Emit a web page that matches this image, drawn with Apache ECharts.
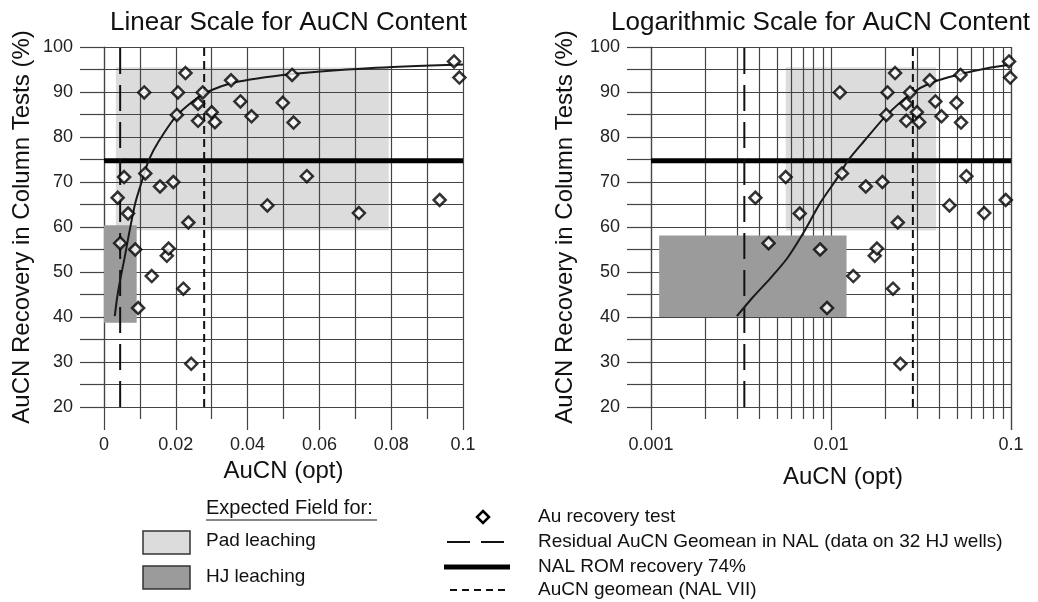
<!DOCTYPE html>
<html lang="en">
<head>
<meta charset="UTF-8">
<title>AuCN recovery</title>
<script src="https://cdn.jsdelivr.net/npm/echarts@6/dist/echarts.min.js"></script>
<style>body{margin:0;background:#fff}</style>
</head>
<body>
<div id="app" style="width:1038px;height:602px"></div>
<script>
// column tests: AuCN content (opt) and recovery (%)
var aucn = [0.0038, 0.0045, 0.0056, 0.0067, 0.0087, 0.0095, 0.0112, 0.0115, 0.0133, 0.0156,
	0.0175, 0.0180, 0.0193, 0.0203, 0.0206, 0.0221, 0.0227, 0.0235, 0.0243, 0.0262,
	0.0262, 0.0275, 0.0300, 0.0309, 0.0354, 0.0380, 0.0411, 0.0455, 0.0498, 0.0524,
	0.0528, 0.0565, 0.0710, 0.0935, 0.0975, 0.0990];
var recovery = [66.5, 56.4, 71.1, 63.0, 55.0, 42.0, 89.9, 71.9, 49.1, 69.0,
	53.6, 55.2, 70.0, 84.9, 89.9, 46.3, 94.2, 61.0, 29.6, 87.4,
	83.6, 89.9, 85.5, 83.3, 92.6, 87.9, 84.6, 64.8, 87.6, 93.8,
	83.2, 71.3, 63.1, 66.0, 96.8, 93.2];

// fitted recovery curve
var curveX = [0.0030, 0.0037, 0.0046, 0.0057, 0.0070, 0.0087, 0.0108, 0.0125, 0.0152, 0.0202, 0.0274, 0.0357, 0.0525, 0.0738, 0.1];
var curveY = [40.2, 44.5, 48.6, 53.0, 58.6, 65.3, 70.8, 74.9, 79.0, 84.7, 89.4, 92.0, 94.0, 95.3, 96.1];

var romRecovery = 74.7;           // NAL ROM recovery line
var residualX = [0.0045, 0.0033]; // residual AuCN geomean [linear, log]
var geomeanX = [0.0279, 0.0285];  // AuCN geomean NAL VII [linear, log]
// expected fields [xFrom, xTo, yFrom, yTo] for [linear, log]
var padField = [[0.0033, 0.0793, 59.3, 95.5], [0.0056, 0.0384, 59.2, 95.5]];
var hjField = [[0, 0.0091, 38.7, 60.4], [0.00111, 0.0122, 40.0, 58.1]];

var titles = ['Linear Scale for AuCN Content', 'Logarithmic Scale for AuCN Content'];

var font = 'Liberation Sans, Arial, sans-serif';
var gridColor = '#444';

function rectItem(color) {
	return function (params, api) {
		var a = api.coord([api.value(0), api.value(3)]);
		var b = api.coord([api.value(1), api.value(2)]);
		return {type: 'rect', shape: {x: a[0], y: a[1], width: b[0] - a[0], height: b[1] - a[1]}, style: {fill: color}};
	};
}

function chartSeries(i) {
	var xMin = i == 0 ? 0 : 0.001;
	var pts = aucn.map(function (x, k) { return [x, recovery[k]]; });
	var curve = curveX.map(function (x, k) { return [x, curveY[k]]; });
	var base = {xAxisIndex: i, yAxisIndex: i, silent: true, animation: false};
	return [
		Object.assign({type: 'custom', z: 0, renderItem: rectItem('#dcdcdc'), encode: {x: [0, 1], y: [2, 3]}, data: [padField[i]]}, base),
		Object.assign({type: 'custom', z: 2, renderItem: rectItem('#9b9b9b'), encode: {x: [0, 1], y: [2, 3]}, data: [hjField[i]]}, base),
		Object.assign({type: 'line', z: 3, symbol: 'none', data: [[xMin, romRecovery], [0.1, romRecovery]],
			lineStyle: {color: '#000', width: 5}}, base),
		Object.assign({type: 'line', z: 3, symbol: 'none', data: [[residualX[i], 20], [residualX[i], 100]],
			lineStyle: {color: '#111', width: 2, type: [26, 11]}}, base),
		Object.assign({type: 'line', z: 3, symbol: 'none', data: [[geomeanX[i], 20], [geomeanX[i], 100]],
			lineStyle: {color: '#111', width: 2, type: [8, 5]}}, base),
		Object.assign({type: 'line', z: 4, symbol: 'none', smooth: 0.25, data: curve,
			lineStyle: {color: '#1a1a1a', width: 2}}, base),
		Object.assign({type: 'scatter', z: 5, symbol: 'diamond', symbolSize: 12, data: pts,
			itemStyle: {color: '#fff', borderColor: '#000', borderWidth: 2.5}}, base)
	];
}

var lineSt = {lineStyle: {color: gridColor, width: 1.2}};

function xAxis(i) {
	var ax = {
		gridIndex: i, z: 1, max: 0.1,
		name: 'AuCN (opt)', nameLocation: 'middle', nameGap: i == 0 ? 49 : 58,
		nameTextStyle: {fontFamily: font, fontSize: 24, color: '#111', padding: i == 0 ? 0 : [0, 0, 0, 24]},
		axisLine: lineSt, splitLine: {show: true, lineStyle: {color: gridColor, width: 1.2}},
		axisTick: {show: true, length: 23, lineStyle: {color: gridColor, width: 1.2}},
		minorTick: {show: true, length: 12, lineStyle: {color: gridColor, width: 1.2}},
		minorSplitLine: {show: true, lineStyle: {color: gridColor, width: 1.2}},
		axisLabel: {fontFamily: font, fontSize: 18, color: '#222', margin: 29}
	};
	if (i == 0) {
		ax.type = 'value'; ax.min = 0; ax.interval = 0.02; ax.minorTick.splitNumber = 2;
	} else {
		ax.type = 'log'; ax.logBase = 10; ax.min = 0.001; ax.minorTick.splitNumber = 9;
	}
	return ax;
}

function yAxis(i) {
	return {
		type: 'value', gridIndex: i, z: 1, min: 20, max: 100, interval: 10,
		name: 'AuCN Recovery in Column Tests (%)', nameLocation: 'middle', nameRotate: 90,
		nameGap: i == 0 ? 70 : 74,
		nameTextStyle: {fontFamily: font, fontSize: 24, color: '#111'},
		axisLine: {show: true, lineStyle: {color: gridColor, width: 1.2}},
		splitLine: {show: true, lineStyle: {color: gridColor, width: 1.2}},
		axisTick: {show: true, length: 24, lineStyle: {color: gridColor, width: 1.2}},
		minorTick: {show: true, splitNumber: 2, length: 24, lineStyle: {color: gridColor, width: 1.2}},
		minorSplitLine: {show: true, lineStyle: {color: gridColor, width: 1.2}},
		axisLabel: {fontFamily: font, fontSize: 18, color: '#222', margin: 31}
	};
}

var legendText = {fontFamily: font, fontSize: 19, fill: '#111', verticalAlign: 'middle'};
function txt(x, y, s) {
	return {type: 'text', x: x, y: y, style: Object.assign({text: s}, legendText)};
}

var myChart = echarts.init(document.getElementById('app'));
var option = {
	animation: false,
	backgroundColor: '#fff',
	title: [
		{text: titles[0], left: 105, top: 5, textStyle: {fontFamily: font, fontSize: 26, fontWeight: 'normal', color: '#111'}},
		{text: titles[1], left: 606, top: 5, textStyle: {fontFamily: font, fontSize: 26, fontWeight: 'normal', color: '#111'}}
	],
	grid: [
		{left: 104, right: 575, top: 47, bottom: 195, outerBoundsMode: 'none'},
		{left: 651, right: 27, top: 47, bottom: 195, outerBoundsMode: 'none'}
	],
	xAxis: [xAxis(0), xAxis(1)],
	yAxis: [yAxis(0), yAxis(1)],
	series: chartSeries(0).concat(chartSeries(1)),
	graphic: [
		// expected field legend
		{type: 'text', x: 206, y: 508, style: {text: 'Expected Field for:', fontFamily: font, fontSize: 20, fill: '#111', verticalAlign: 'middle'}},
		{type: 'line', shape: {x1: 206, y1: 520, x2: 377, y2: 520}, style: {stroke: '#111', lineWidth: 1.2}},
		{type: 'rect', shape: {x: 143, y: 531, width: 47, height: 23}, style: {fill: '#dcdcdc', stroke: '#333', lineWidth: 1.5}},
		{type: 'rect', shape: {x: 143, y: 566, width: 47, height: 23}, style: {fill: '#9b9b9b', stroke: '#333', lineWidth: 1.5}},
		txt(206, 541, 'Pad leaching'),
		txt(206, 577, 'HJ leaching'),
		// symbols legend
		{type: 'polygon', shape: {points: [[483, 511], [489, 517], [483, 523], [477, 517]]}, style: {fill: '#fff', stroke: '#000', lineWidth: 2.5}},
		{type: 'line', shape: {x1: 447, y1: 542, x2: 510, y2: 542}, style: {stroke: '#111', lineWidth: 2, lineDash: [23, 11]}},
		{type: 'line', shape: {x1: 444, y1: 567, x2: 510, y2: 567}, style: {stroke: '#000', lineWidth: 5}},
		{type: 'line', shape: {x1: 450, y1: 590, x2: 510, y2: 590}, style: {stroke: '#111', lineWidth: 2, lineDash: [7, 5]}},
		txt(538, 517, 'Au recovery test'),
		txt(538, 542, 'Residual AuCN Geomean in NAL (data on 32 HJ wells)'),
		txt(538, 567, 'NAL ROM recovery 74%'),
		txt(538, 590, 'AuCN geomean (NAL VII)')
	]
};
myChart.setOption(option);
</script>
</body>
</html>
